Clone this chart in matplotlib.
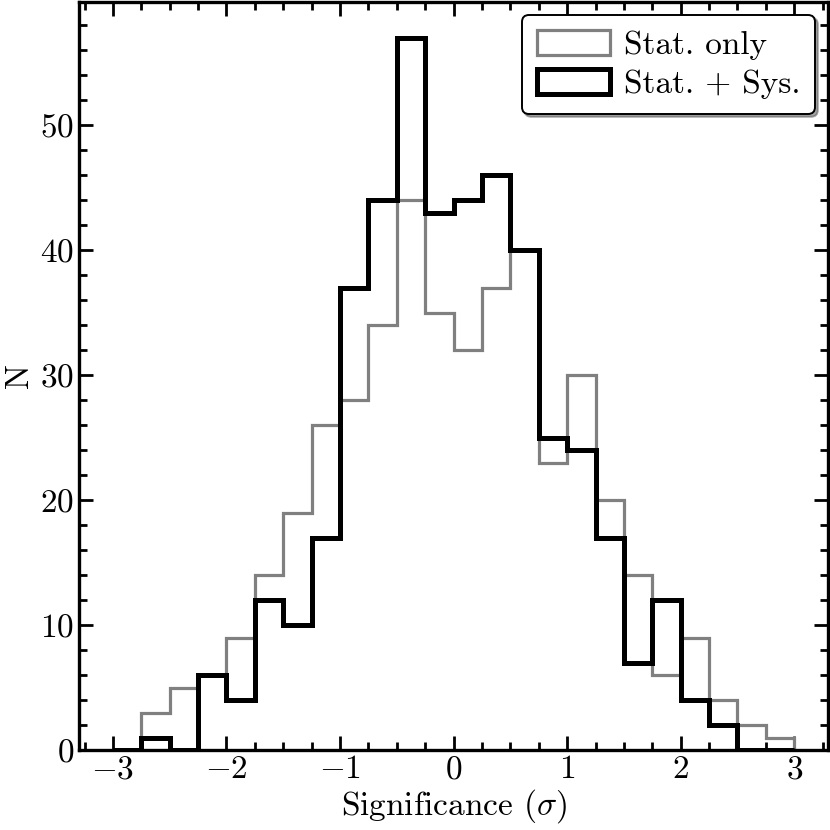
import numpy as np
import matplotlib
matplotlib.use('Agg')
import matplotlib.pyplot as plt
from matplotlib.ticker import MultipleLocator

# bin edges, width 0.25 from -3 to 3
bin_edges = np.arange(-3.0, 3.0001, 0.25)

# counts per bin
stat_only = [0, 3, 5, 6, 9, 14, 19, 26, 28, 34, 44, 35,
             32, 37, 40, 23, 30, 20, 14, 6, 9, 4, 2, 1]
stat_sys = [0, 1, 0, 6, 4, 12, 10, 17, 37, 44, 57, 43,
            44, 46, 40, 25, 24, 17, 7, 12, 4, 2, 0, 0]

plt.rcParams['font.family'] = 'serif'
plt.rcParams['font.serif'] = ['cmr10']
plt.rcParams['mathtext.fontset'] = 'cm'
plt.rcParams['axes.formatter.use_mathtext'] = True
plt.rcParams['axes.unicode_minus'] = True

fig = plt.figure(figsize=(8.3, 8.3), dpi=100)
ax = fig.add_axes([0.095, 0.096, 0.903, 0.902])

centers = bin_edges[:-1] + 0.125
ax.hist(centers, bins=bin_edges, weights=stat_only, histtype='step',
        color='#808080', linewidth=2.3, label='Stat. only')
ax.hist(centers, bins=bin_edges, weights=stat_sys, histtype='step',
        color='black', linewidth=3.6, label='Stat. + Sys.')

ax.set_xlim(-3.3, 3.3)
ax.set_ylim(0, 59.9)
ax.xaxis.set_major_locator(MultipleLocator(1))
ax.xaxis.set_minor_locator(MultipleLocator(0.25))
ax.yaxis.set_major_locator(MultipleLocator(10))
ax.yaxis.set_minor_locator(MultipleLocator(2))
ax.tick_params(which='both', direction='in', top=True, right=True,
               labelsize=24, width=2)
ax.tick_params(which='major', length=10)
ax.tick_params(which='minor', length=6)
for sp in ax.spines.values():
    sp.set_linewidth(2.4)

ax.set_xlabel(r'Significance ($\sigma$)', fontsize=24, labelpad=2)
ax.set_ylabel('N', fontsize=24, labelpad=4)

leg = ax.legend(loc='upper right', fontsize=24, fancybox=True, shadow=True,
                framealpha=1, edgecolor='black', borderaxespad=0.4,
                handlelength=2.2, handleheight=0.8, handletextpad=0.4,
                borderpad=0.45, labelspacing=0.25)
leg.get_frame().set_linewidth(1.4)

fig.savefig('out.png', dpi=100)
